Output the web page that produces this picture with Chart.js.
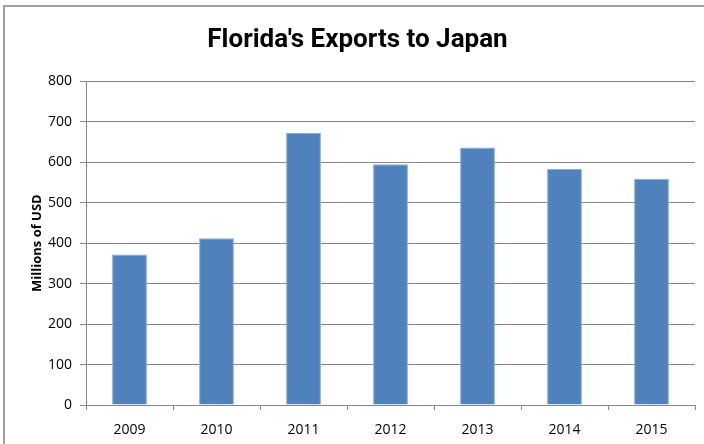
<!DOCTYPE html>
<html>
<head>
<meta charset="utf-8">
<script src="https://cdn.jsdelivr.net/npm/chart.js@4.4.0/dist/chart.umd.min.js"></script>
<style>
    html, body { margin: 0; padding: 0; background: #fff; overflow: hidden; }
    #wrap { position: relative; width: 704px; height: 444px; }
    #frame { position: absolute; left: 3px; top: 5px; width: 800px; height: 800px; border: 2px solid #a0a0a0; box-sizing: border-box; pointer-events: none; }
    canvas { position: absolute; left: 0; top: 0; }
</style>
</head>
<body>
<div id="wrap">
    <canvas id="chart" width="704" height="444"></canvas>
    <div id="frame"></div>
</div>
<script>
// Chart data
const years = ['2009', '2010', '2011', '2012', '2013', '2014', '2015'];
const exports = [372, 412, 672, 595, 636, 584, 559];
const yTicks = [0, 100, 200, 300, 400, 500, 600, 700, 800];

const gridGrey = '#878787';
const tickFont = { family: 'Open Sans', size: 14 };

const ctx = document.getElementById('chart').getContext('2d');
new Chart(ctx, {
    type: 'bar',
    data: {
        labels: years,
        datasets: [{
            label: 'Millions of USD',
            data: exports,
            backgroundColor: '#4f81bd',
            borderColor: '#8aa9d4',
            borderWidth: 1,
            barPercentage: 0.4,
            categoryPercentage: 1
        }]
    },
    options: {
        responsive: false,
        animation: false,
        // left padding keeps the title centred like the original
        layout: { padding: { left: 20, right: 9, top: 0, bottom: 0 } },
        plugins: {
            legend: { display: false },
            tooltip: { enabled: false },
            title: {
                display: true,
                text: "Florida's Exports to Japan",
                color: '#000',
                font: { family: 'Roboto', size: 26, weight: 'bold' },
                padding: { top: 25, bottom: 25 }
            }
        },
        scales: {
            x: {
                grid: {
                    display: true,
                    drawOnChartArea: false,
                    drawTicks: true,
                    tickLength: 5,
                    color: gridGrey
                },
                border: { display: true, color: gridGrey },
                ticks: { color: '#000', font: tickFont, padding: 12 },
                afterFit: (scale) => { scale.height = 39; }
            },
            y: {
                min: 0,
                max: 800,
                afterBuildTicks: (scale) => {
                    scale.ticks = yTicks.map(v => ({ value: v }));
                },
                grid: {
                    color: gridGrey,
                    tickLength: 6
                },
                border: { display: true, color: gridGrey },
                ticks: { color: '#000', font: tickFont, padding: 8 },
                title: {
                    display: true,
                    text: 'Millions of USD',
                    color: '#000',
                    font: { family: 'Open Sans', size: 13, weight: 'bold' },
                    padding: { top: 9, bottom: 0 }
                },
                afterFit: (scale) => { scale.width = 66; }
            }
        }
    }
});
</script>
</body>
</html>
